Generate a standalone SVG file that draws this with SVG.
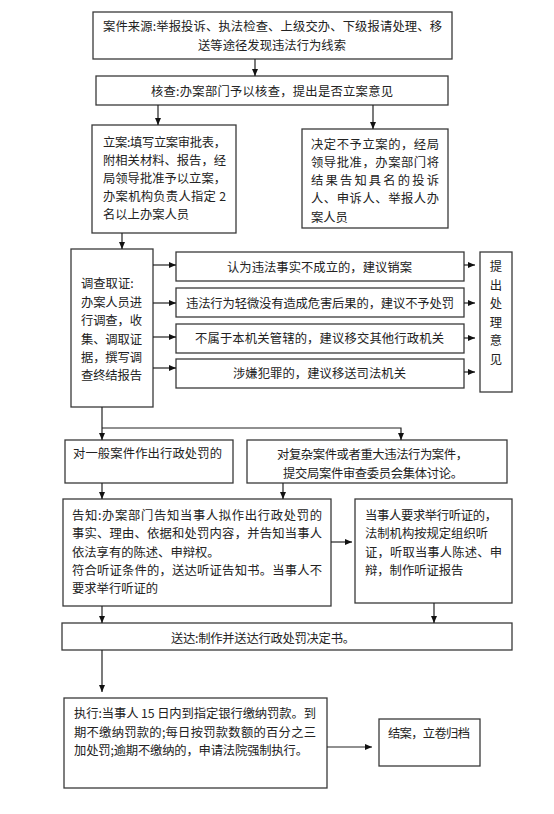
<svg xmlns="http://www.w3.org/2000/svg" width="554" height="814" viewBox="0 0 554 814">
<style>
rect{fill:#fff;stroke:#3a3a3a;stroke-width:1.3}
text{font-family:"Noto Sans CJK SC","Noto Sans",sans-serif;font-size:12.3px;fill:#222;dominant-baseline:central}
.c{text-anchor:middle}
.l{fill:none;stroke:#222;stroke-width:1.2}
</style>
<defs>
<marker id="a" markerUnits="userSpaceOnUse" markerWidth="8" markerHeight="8" refX="7" refY="3" orient="auto"><path d="M0,0 L7,3 L0,6 z" fill="#111"/></marker>
</defs>
<rect x="0" y="0" width="554" height="814" style="fill:#fff;stroke:none"/>
<g id="n1"><rect x="93" y="12" width="359" height="47"/>
<text x="103" y="26" textLength="339" lengthAdjust="spacing">案件来源:举报投诉、执法检查、上级交办、下级报请处理、移</text>
<text x="198" y="45" textLength="148" lengthAdjust="spacing">送等途径发现违法行为线索</text></g>
<g id="n2"><rect x="96" y="76" width="352" height="29"/>
<text x="151" y="91" textLength="242" lengthAdjust="spacing">核查:办案部门予以核查，提出是否立案意见</text></g>
<g id="n3"><rect x="92" y="125" width="144" height="108"/>
<text x="103" y="142" textLength="123" lengthAdjust="spacing">立案:填写立案审批表，</text>
<text x="103" y="160" textLength="123" lengthAdjust="spacing">附相关材料、报告，经</text>
<text x="103" y="178" textLength="123" lengthAdjust="spacing">局领导批准予以立案，</text>
<text x="103" y="196" textLength="123" lengthAdjust="spacing">办案机构负责人指定 2</text>
<text x="103" y="214">名以上办案人员</text></g>
<g id="n4"><rect x="302" y="129" width="146" height="99"/>
<text x="311" y="144" textLength="128" lengthAdjust="spacing">决定不予立案的，经局</text>
<text x="311" y="162" textLength="128" lengthAdjust="spacing">领导批准，办案部门将</text>
<text x="311" y="180" textLength="128" lengthAdjust="spacing">结果告知具名的投诉</text>
<text x="311" y="198" textLength="128" lengthAdjust="spacing">人、申诉人、举报人办</text>
<text x="311" y="217">案人员</text></g>
<g id="n5"><rect x="71" y="249" width="82" height="158"/>
<text x="81" y="283">调查取证:</text>
<text x="81" y="302" textLength="61" lengthAdjust="spacing">办案人员进</text>
<text x="81" y="320" textLength="61" lengthAdjust="spacing">行调查，收</text>
<text x="81" y="339" textLength="61" lengthAdjust="spacing">集、调取证</text>
<text x="81" y="357" textLength="61" lengthAdjust="spacing">据，撰写调</text>
<text x="81" y="375" textLength="61" lengthAdjust="spacing">查终结报告</text></g>
<g id="n6"><rect x="176" y="252" width="288" height="29"/>
<text x="227" y="267" textLength="185" lengthAdjust="spacing">认为违法事实不成立的，建议销案</text></g>
<g id="n7"><rect x="176" y="288" width="288" height="29"/>
<text x="186" y="303" textLength="268" lengthAdjust="spacing">违法行为轻微没有造成危害后果的，建议不予处罚</text></g>
<g id="n8"><rect x="176" y="324" width="288" height="29"/>
<text x="195" y="338" textLength="249" lengthAdjust="spacing">不属于本机关管辖的，建议移交其他行政机关</text></g>
<g id="n9"><rect x="176" y="359" width="288" height="29"/>
<text x="233" y="373" textLength="173" lengthAdjust="spacing">涉嫌犯罪的，建议移送司法机关</text></g>
<g id="n10"><rect x="480" y="252" width="32" height="140"/>
<text class="c" x="496" y="266">提</text><text class="c" x="496" y="285">出</text><text class="c" x="496" y="303">处</text><text class="c" x="496" y="322">理</text><text class="c" x="496" y="340">意</text><text class="c" x="496" y="359">见</text></g>
<g id="n11"><rect x="65" y="440" width="168" height="43"/>
<text x="73" y="453" textLength="149" lengthAdjust="spacing">对一般案件作出行政处罚的</text></g>
<g id="n12"><rect x="247" y="440" width="260" height="43"/>
<text x="277" y="454" textLength="191" lengthAdjust="spacing">对复杂案件或者重大违法行为案件，</text>
<text x="283" y="473" textLength="180" lengthAdjust="spacing">提交局案件审查委员会集体讨论。</text></g>
<g id="n13"><rect x="63" y="499" width="268" height="107"/>
<text x="72" y="515" textLength="250" lengthAdjust="spacing">告知:办案部门告知当事人拟作出行政处罚的</text>
<text x="72" y="533" textLength="250" lengthAdjust="spacing">事实、理由、依据和处罚内容，并告知当事人</text>
<text x="72" y="552">依法享有的陈述、申辩权。</text>
<text x="72" y="570" textLength="250" lengthAdjust="spacing">符合听证条件的，送达听证告知书。当事人不</text>
<text x="72" y="588">要求举行听证的</text></g>
<g id="n14"><rect x="355" y="499" width="157" height="104"/>
<text x="365" y="515" textLength="132" lengthAdjust="spacing">当事人要求举行听证的，</text>
<text x="365" y="533" textLength="123" lengthAdjust="spacing">法制机构按规定组织听</text>
<text x="365" y="552" textLength="137" lengthAdjust="spacing">证，听取当事人陈述、申</text>
<text x="365" y="570">辩，制作听证报告</text></g>
<g id="n15"><rect x="62" y="623" width="450" height="27"/>
<text x="171" y="638" textLength="184" lengthAdjust="spacing">送达:制作并送达行政处罚决定书。</text></g>
<g id="n16"><rect x="64" y="698" width="263" height="90"/>
<text x="74" y="713" textLength="242" lengthAdjust="spacing">执行:当事人 15 日内到指定银行缴纳罚款。到</text>
<text x="74" y="732" textLength="242" lengthAdjust="spacing">期不缴纳罚款的;每日按罚款数额的百分之三</text>
<text x="74" y="750" textLength="234" lengthAdjust="spacing">加处罚;逾期不缴纳的，申请法院强制执行。</text></g>
<g id="n17"><rect x="379" y="719" width="101" height="47"/>
<text x="388" y="733" textLength="82" lengthAdjust="spacing">结案，立卷归档</text></g>
<g id="connectors">
<path class="l" d="M255,59 V76" marker-end="url(#a)"/>
<path class="l" d="M158,105 V125" marker-end="url(#a)"/>
<path class="l" d="M373,105 V129" marker-end="url(#a)"/>
<path class="l" d="M122,233 V249" marker-end="url(#a)"/>
<path class="l" d="M153,265 H176" marker-end="url(#a)"/>
<path class="l" d="M153,303 H176" marker-end="url(#a)"/>
<path class="l" d="M153,337 H176" marker-end="url(#a)"/>
<path class="l" d="M153,368 H176" marker-end="url(#a)"/>
<path class="l" d="M464,265 H475" marker-end="url(#a)"/>
<path class="l" d="M464,303 H475" marker-end="url(#a)"/>
<path class="l" d="M464,338 H475" marker-end="url(#a)"/>
<path class="l" d="M464,372 H475" marker-end="url(#a)"/>
<path class="l" d="M102,407 V440" marker-end="url(#a)"/>
<path class="l" d="M102,428 H401 V440" marker-end="url(#a)"/>
<path class="l" d="M102,483 V499" marker-end="url(#a)"/>
<path class="l" d="M283,483 V499" marker-end="url(#a)"/>
<path class="l" d="M331,542 H352" marker-end="url(#a)"/>
<path class="l" d="M102,606 V623" marker-end="url(#a)"/>
<path class="l" d="M434,603 V623" marker-end="url(#a)"/>
<path class="l" d="M102,650 V692" marker-end="url(#a)"/>
<path class="l" d="M327,747 H372" marker-end="url(#a)"/>
</g>
</svg>
